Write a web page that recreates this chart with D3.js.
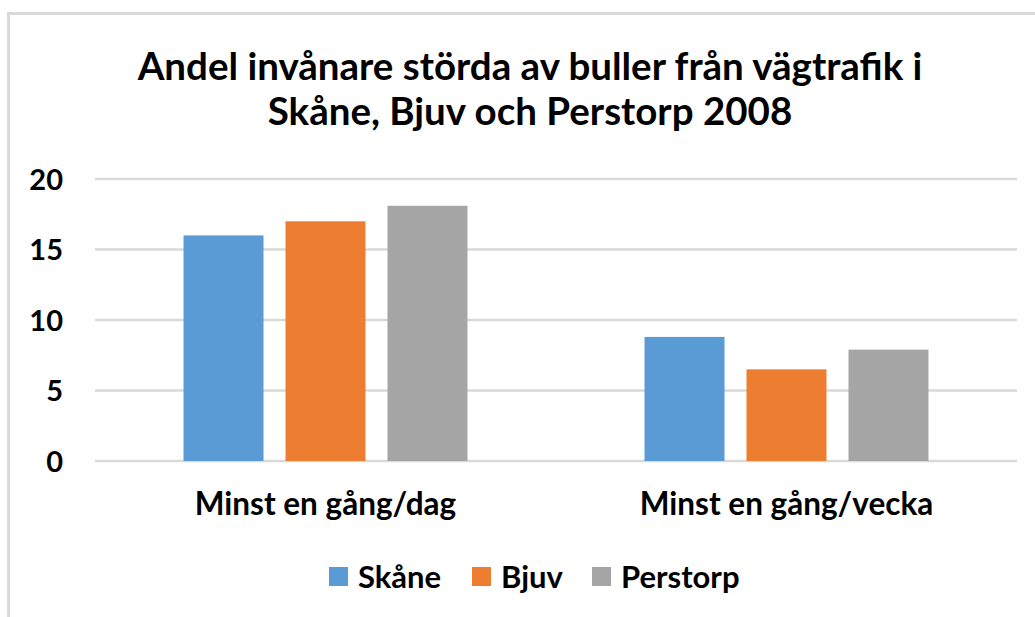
<!DOCTYPE html>
<html lang="sv">

<head>
    <meta charset="utf-8" />
    <script src="https://d3js.org/d3.v7.min.js"></script>
    <style type="text/css">
        body {
            margin: 0;
            background: #fff;
        }

        text {
            font-family: 'Lato', 'Open Sans', sans-serif;
            font-weight: bold;
            fill: #000;
        }
    </style>
</head>

<body>
    <div class="svg-box"></div>
    <script type="text/javascript">
        // Data
        var categories = ['Minst en gång/dag', 'Minst en gång/vecka'];
        var seriesNames = ['Skåne', 'Bjuv', 'Perstorp'];
        var skane = [16.0, 8.8];
        var bjuv = [17.0, 6.5];
        var perstorp = [18.1, 7.9];
        var yTicks = [0, 5, 10, 15, 20];
        var titleLines = ['Andel invånare störda av buller från vägtrafik i', 'Skåne, Bjuv och Perstorp 2008'];

        var seriesValues = [skane, bjuv, perstorp];
        var colors = ['#5b9bd5', '#ed7d31', '#a5a5a5'];

        let width = 1035;
        let height = 617;
        let plot = { left: 95, right: 1017, top: 179, bottom: 461 };

        var svg = d3.select('div.svg-box')
            .append('svg')
            .attr('width', width)
            .attr('height', height)
            .style('display', 'block');

        svg.append('rect')
            .attr('width', width)
            .attr('height', height)
            .attr('fill', '#fff');

        // chart frame, only left and top edges are visible
        svg.append('rect')
            .attr('x', 8.5)
            .attr('y', 13.5)
            .attr('width', 1200)
            .attr('height', 800)
            .attr('fill', 'none')
            .attr('stroke', '#d9d9d9')
            .attr('stroke-width', 3);

        // title
        svg.append('text')
            .attr('text-anchor', 'middle')
            .style('font-size', '38.5px')
            .selectAll('tspan')
            .data(titleLines)
            .enter()
            .append('tspan')
            .attr('x', 530)
            .attr('y', function (d, i) { return 80 + i * 45; })
            .text(function (d) { return d; });

        var y = d3.scaleLinear()
            .domain([0, 20])
            .range([plot.bottom, plot.top]);

        var x0 = d3.scaleBand()
            .domain(categories)
            .range([plot.left, plot.right])
            .padding(0);

        var x1 = d3.scaleBand()
            .domain(seriesNames)
            .range([0, x0.bandwidth()])
            .paddingInner(0.2157)
            .paddingOuter(0.868);

        // gridlines
        svg.append('g')
            .selectAll('line')
            .data(yTicks)
            .enter()
            .append('line')
            .attr('x1', plot.left)
            .attr('x2', plot.right)
            .attr('y1', function (d) { return y(d); })
            .attr('y2', function (d) { return y(d); })
            .attr('stroke', '#d9d9d9')
            .attr('stroke-width', 2.5);

        // y axis labels
        var yAxis = svg.append('g')
            .attr('transform', 'translate(' + (plot.left - 32) + ',0)')
            .call(d3.axisLeft(y).tickValues(yTicks).tickSize(0).tickPadding(0));
        yAxis.select('.domain').remove();
        yAxis.selectAll('text')
            .style('font-size', '29px')
            .attr('dy', '0.36em');

        // bars
        var groups = svg.append('g')
            .selectAll('g')
            .data(categories)
            .enter()
            .append('g')
            .attr('transform', function (d) { return 'translate(' + x0(d) + ',0)'; });

        groups.selectAll('rect')
            .data(function (d, ci) {
                return seriesNames.map(function (s, si) {
                    return { series: s, value: seriesValues[si][ci], color: colors[si] };
                });
            })
            .enter()
            .append('rect')
            .attr('x', function (d) { return x1(d.series); })
            .attr('y', function (d) { return y(d.value); })
            .attr('width', x1.bandwidth())
            .attr('height', function (d) { return y(0) - y(d.value); })
            .attr('fill', function (d) { return d.color; });

        // x axis labels
        var xAxis = svg.append('g')
            .attr('transform', 'translate(0,' + (plot.bottom + 54) + ')')
            .call(d3.axisBottom(x0).tickSize(0).tickPadding(0));
        xAxis.select('.domain').remove();
        xAxis.selectAll('text')
            .style('font-size', '31.5px')
            .attr('dy', '0');

        // legend
        var legendX = [329, 472, 592];
        var legend = svg.append('g')
            .selectAll('g')
            .data(seriesNames)
            .enter()
            .append('g')
            .attr('transform', function (d, i) { return 'translate(' + legendX[i] + ',567)'; });

        legend.append('rect')
            .attr('width', 19)
            .attr('height', 19)
            .attr('fill', function (d, i) { return colors[i]; });

        legend.append('text')
            .attr('x', 29)
            .attr('y', 10)
            .attr('dy', '0.36em')
            .style('font-size', '31px')
            .text(function (d) { return d; });
    </script>
</body>

</html>
